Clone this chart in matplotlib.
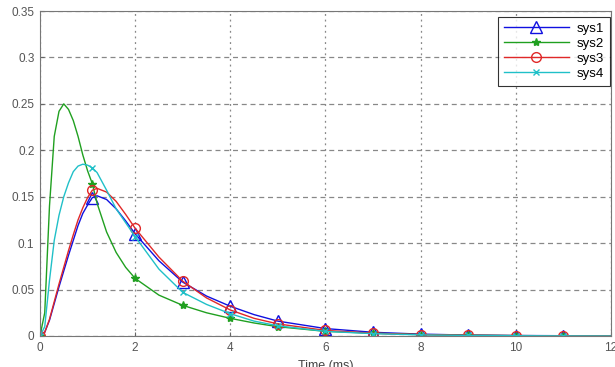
import matplotlib.pyplot as plt

# time samples (ms) and responses
t = [0, 0.1, 0.2, 0.3, 0.4, 0.5, 0.6, 0.7, 0.8, 0.9, 1.0, 1.1, 1.2, 1.4, 1.6, 1.8,
     2.0, 2.5, 3.0, 3.5, 4, 4.5, 5, 6, 7, 8, 9, 10, 11, 12]
sys1 = [0, 0.004, 0.017, 0.035, 0.053, 0.070, 0.087, 0.103, 0.119, 0.132, 0.141, 0.149,
        0.151, 0.147, 0.137, 0.124, 0.110, 0.081, 0.058, 0.043, 0.032, 0.023, 0.016,
        0.008, 0.004, 0.002, 0.001, 0.0005, 0.0003, 0.0001]
sys2 = [0, 0.025, 0.140, 0.215, 0.242, 0.250, 0.244, 0.232, 0.215, 0.195, 0.178, 0.164,
        0.143, 0.112, 0.090, 0.074, 0.062, 0.044, 0.033, 0.025, 0.019, 0.014, 0.010,
        0.005, 0.003, 0.0015, 0.0008, 0.0004, 0.0002, 0.0001]
sys3 = [0, 0.004, 0.018, 0.037, 0.056, 0.074, 0.092, 0.109, 0.125, 0.138, 0.149, 0.157,
        0.159, 0.155, 0.145, 0.131, 0.116, 0.085, 0.059, 0.041, 0.028, 0.019, 0.013,
        0.006, 0.003, 0.0015, 0.0008, 0.0004, 0.0002, 0.0001]
sys4 = [0, 0.010, 0.060, 0.103, 0.130, 0.150, 0.165, 0.177, 0.183, 0.185, 0.184, 0.181,
        0.176, 0.157, 0.137, 0.122, 0.107, 0.072, 0.047, 0.034, 0.024, 0.016, 0.011,
        0.005, 0.0025, 0.0012, 0.0006, 0.0003, 0.0001, 0]
mark_t = [0, 1.1, 2.0, 3.0, 4, 5, 6, 7, 8, 9, 10, 11]

yticks = [0, 0.05, 0.1, 0.15, 0.2, 0.25, 0.3, 0.35]
ytick_labels = ["0", "0.05", "0.1", "0.15", "0.2", "0.25", "0.3", "0.35"]
xticks = [0, 2, 4, 6, 8, 10, 12]

plt.rcParams['font.family'] = ['Liberation Sans', 'DejaVu Sans']

fig = plt.figure(figsize=(6.15, 3.67), dpi=100)
ax = fig.add_axes([0.065, 0.0845, 0.9285, 0.8855])

marks = [t.index(m) for m in mark_t]
ax.plot(t, sys1, color='#1010e0', lw=1, marker='^', ms=8, mfc='none', mew=1,
        markevery=marks, label='sys1')
ax.plot(t, sys2, color='#20a020', lw=1, marker='*', ms=6, mew=1,
        markevery=marks, label='sys2')
ax.plot(t, sys3, color='#e02828', lw=1, marker='o', ms=7, mfc='none', mew=1,
        markevery=marks, label='sys3')
ax.plot(t, sys4, color='#20c0c8', lw=1, marker='x', ms=5, mew=1,
        markevery=marks, label='sys4')

ax.set_xlim(0, 12)
ax.set_ylim(0, 0.35)
ax.set_xticks(xticks)
ax.set_yticks(yticks)
ax.set_yticklabels(ytick_labels)
ax.tick_params(direction='in', length=3, colors='#666666', labelcolor='#555555',
               labelsize=8.5, pad=4)
for s in ax.spines.values():
    s.set_color('#777777')
ax.xaxis.grid(True, color='#888888', linestyle=(0, (1.5, 3)), lw=0.9)
ax.yaxis.grid(True, color='#888888', linestyle=(0, (4, 3)), lw=0.9)
ax.set_xlabel('Time (ms)', fontsize=9, color='#444444', labelpad=5)

leg = ax.legend(loc='upper right', fontsize=9.5, handlelength=4.9, borderpad=0.45,
                labelspacing=0.2, handletextpad=0.6, fancybox=False,
                bbox_to_anchor=(0.998, 0.982), borderaxespad=0)
leg.get_frame().set_edgecolor('black')
leg.get_frame().set_linewidth(0.8)

fig.savefig('out.png', dpi=100)
